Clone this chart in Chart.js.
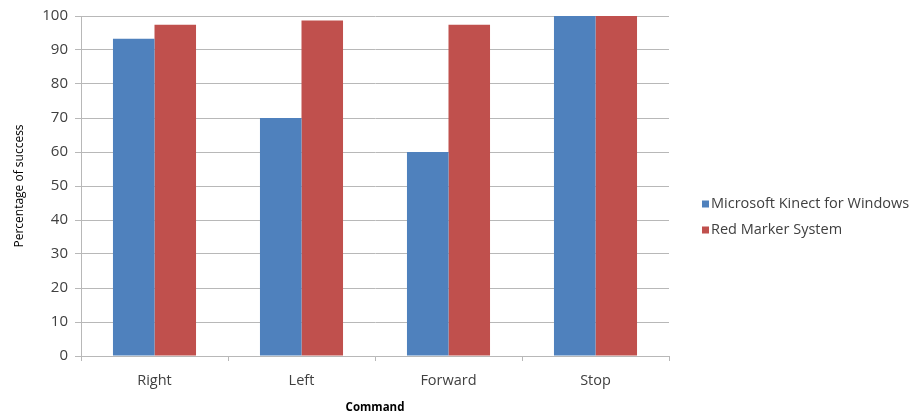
<!DOCTYPE html>
<html>
<head>
<meta charset="utf-8">
<script src="https://cdn.jsdelivr.net/npm/chart.js@4"></script>
<style>
  html, body { margin: 0; padding: 0; background: #fff; }
  #wrap { width: 914px; height: 416px; position: relative; }
</style>
</head>
<body>
<div id="wrap"><canvas id="c"></canvas></div>
<script>
const commands = ['Right', 'Left', 'Forward', 'Stop'];
const kinectValues = [93.3, 70, 60, 100];
const redMarkerValues = [97.4, 98.7, 97.4, 100];
const yTicks = [0, 10, 20, 30, 40, 50, 60, 70, 80, 90, 100];

const FONT = '"Open Sans", "Liberation Sans", sans-serif';
const TEXT = '#404040';
const GRID = '#b8b8b8';

// Legend drawn beside the plot area
const sideLegend = {
  id: 'sideLegend',
  afterDraw(chart) {
    const ctx = chart.ctx;
    const area = chart.chartArea;
    const sets = chart.data.datasets;
    const rowGap = 26;
    const x0 = area.right + 33;
    const yStart = (area.top + area.bottom) / 2 + 18;
    ctx.save();
    ctx.font = '14.5px ' + FONT;
    ctx.textBaseline = 'middle';
    sets.forEach((ds, i) => {
      const y = yStart + i * rowGap;
      ctx.fillStyle = ds.backgroundColor;
      ctx.fillRect(x0, y - 3.5, 7, 7);
      ctx.fillStyle = TEXT;
      ctx.fillText(ds.label, x0 + 9, y);
    });
    ctx.restore();
  }
};

new Chart(document.getElementById('c'), {
  type: 'bar',
  data: {
    labels: commands,
    datasets: [
      { label: 'Microsoft Kinect for Windows', data: kinectValues, backgroundColor: '#4F81BD' },
      { label: 'Red Marker System', data: redMarkerValues, backgroundColor: '#C0504D' }
    ]
  },
  options: {
    responsive: true,
    maintainAspectRatio: false,
    animation: false,
    layout: { padding: { top: 15, right: 245, left: 0, bottom: 0 } },
    datasets: { bar: { categoryPercentage: 0.565, barPercentage: 1.0 } },
    plugins: {
      legend: { display: false },
      tooltip: { enabled: false }
    },
    scales: {
      x: {
        grid: { display: true, drawOnChartArea: false, drawTicks: true, tickLength: 5, color: GRID, offset: true },
        border: { display: true, color: GRID },
        ticks: { color: TEXT, font: { family: FONT, size: 14.5 }, padding: 11 },
        title: { display: true, text: 'Command', color: '#000', font: { family: FONT, size: 11.5, weight: 'bold' }, padding: { top: 0, bottom: 1 } },
        afterFit(scale) { scale.height = 60; }
      },
      y: {
        min: 0,
        max: 100,
        afterBuildTicks(scale) { scale.ticks = yTicks.map(v => ({ value: v })); },
        grid: { color: GRID, tickLength: 6, drawTicks: true },
        border: { display: true, color: GRID },
        ticks: { color: TEXT, font: { family: FONT, size: 15 }, padding: 7 },
        title: { display: true, text: 'Percentage of success', color: '#000', font: { family: FONT, size: 12 }, padding: { top: 12, bottom: 0 } },
        afterFit(scale) { scale.width = 81; }
      }
    }
  },
  plugins: [sideLegend]
});
</script>
</body>
</html>
